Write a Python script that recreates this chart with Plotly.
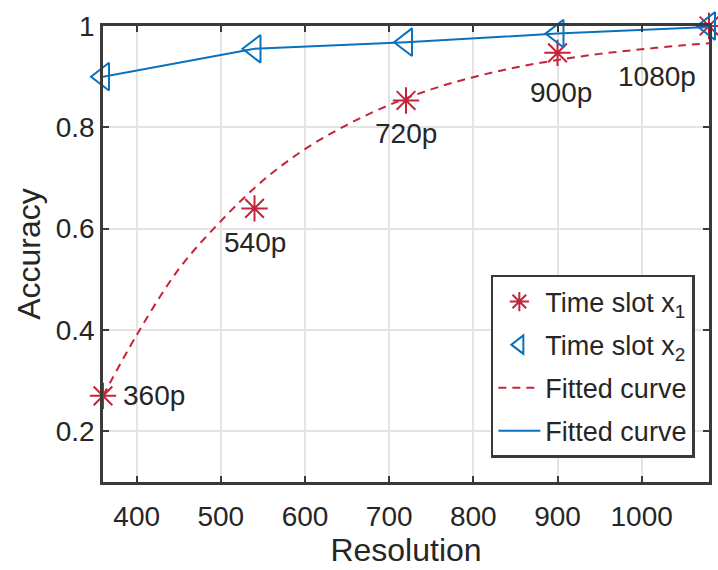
import plotly.graph_objects as go

# Data
res = [360, 540, 720, 900, 1080]
acc_x1 = [0.27, 0.64, 0.853, 0.947, 1.0]
acc_x2 = [0.90, 0.955, 0.968, 0.985, 1.0]
point_labels = ["360p", "540p", "720p", "900p", "1080p"]

fit1_x = [360, 400, 450, 500, 550, 600, 650, 700, 750, 800, 850, 900, 950, 1000, 1050, 1080]
fit1_y = [0.27, 0.39, 0.52, 0.615, 0.695, 0.757, 0.805, 0.844, 0.875, 0.899, 0.918, 0.933, 0.945, 0.954, 0.962, 0.966]
fit2_x = [360, 540, 720, 900, 1080]
fit2_y = [0.90, 0.955, 0.968, 0.985, 0.998]

xticks = [400, 500, 600, 700, 800, 900, 1000]
yticks = [0.2, 0.4, 0.6, 0.8, 1.0]
ytick_text = ["0.2", "0.4", "0.6", "0.8", "1"]

RED = "#c3243a"
BLUE = "#0a72bd"
FONT = "Liberation Sans"
TXT = "#262626"

fig = go.Figure()
fig.add_trace(go.Scatter(x=res, y=acc_x1, mode="markers", name="Time slot x<sub>1</sub>",
                         legendgroup="a",
                         marker=dict(symbol="asterisk-open", size=22, color=RED,
                                     line=dict(color=RED, width=2)),
                         cliponaxis=False))
fig.add_trace(go.Scatter(x=res, y=acc_x2, mode="markers", name="Time slot x<sub>2</sub>",
                         legendgroup="b",
                         marker=dict(symbol="triangle-left-open", size=24, color=BLUE,
                                     line=dict(color=BLUE, width=2)),
                         cliponaxis=False))
fig.add_trace(go.Scatter(x=fit1_x, y=fit1_y, mode="lines", name="Fitted curve",
                         legendgroup="c",
                         line=dict(color=RED, width=2, dash="8px,6px", shape="spline")))
fig.add_trace(go.Scatter(x=fit2_x, y=fit2_y, mode="lines", name="Fitted curve",
                         legendgroup="d",
                         line=dict(color=BLUE, width=2)))

shifts = [(18, 0, "left"), (0, -34, "center"), (0, -33, "center"), (3, -40, "center"), (-52, -50, "center")]
for xv, yv, lab, (dx, dy, anc) in zip(res, acc_x1, point_labels, shifts):
    fig.add_annotation(x=xv, y=yv, text=lab, showarrow=False, xanchor=anc, yanchor="middle",
                       xshift=dx, yshift=dy, font=dict(family=FONT, size=28, color=TXT))

axis_common = dict(showgrid=True, gridcolor="#e3e3e3", gridwidth=1.5,
                   showline=True, linecolor="#3a3a3a", linewidth=2.5, mirror="ticks",
                   ticks="inside", ticklen=6, tickwidth=2, tickcolor="#3a3a3a",
                   zeroline=False, tickfont=dict(family=FONT, size=28, color=TXT))

fig.update_xaxes(range=[360, 1080], tickvals=xticks, ticklabelstandoff=8,
                 title=dict(text="Resolution", font=dict(family=FONT, size=32, color=TXT), standoff=4),
                 **axis_common)
fig.update_yaxes(range=[0.1, 1.0], tickvals=yticks, ticktext=ytick_text,
                 title=dict(text="Accuracy", font=dict(family=FONT, size=32, color=TXT), standoff=6),
                 **axis_common)

fig.update_layout(
    width=718, height=570,
    margin=dict(l=103, r=6, t=26, b=88),
    plot_bgcolor="white", paper_bgcolor="white",
    font=dict(family=FONT, color=TXT),
    legend=dict(x=0.64, y=0.454, xanchor="left", yanchor="top",
                bgcolor="white", bordercolor="#3a3a3a", borderwidth=2.5,
                tracegroupgap=5,
                font=dict(family=FONT, size=27, color=TXT), itemwidth=42),
)

fig.write_html("out.html", config={"displayModeBar": False},
               post_script="document.body.style.margin='0';document.body.style.overflow='hidden';")
